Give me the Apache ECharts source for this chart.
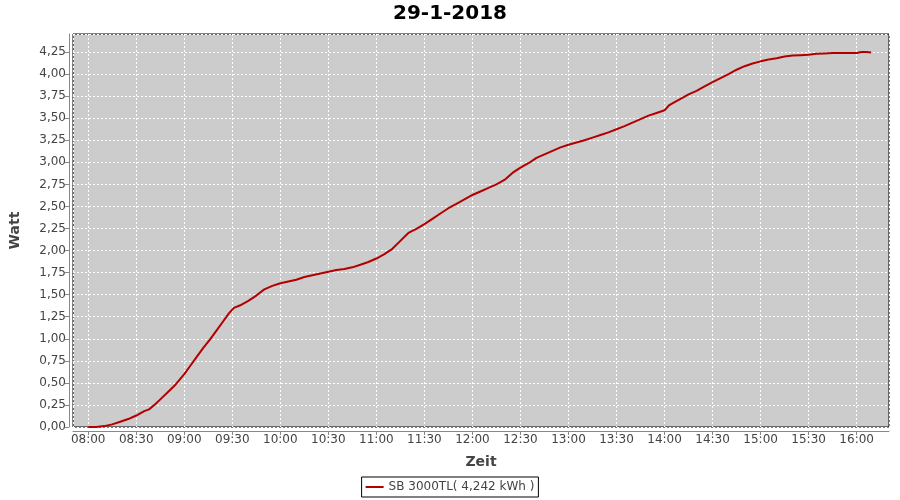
<!DOCTYPE html>
<html>
<head>
<meta charset="utf-8">
<script src="https://cdn.jsdelivr.net/npm/echarts@6/dist/echarts.min.js"></script>
<style>
html,body{margin:0;padding:0;background:#fff;}
#c{width:900px;height:500px;}
</style>
</head>
<body>
<div id="c"></div>
<script>
var chartTitle = '29-1-2018';
var seriesName = 'SB 3000TL( 4,242 kWh )';
var xAxisName = 'Zeit';
var yAxisName = 'Watt';
var times = ['08:00','08:05','08:10','08:15','08:20','08:25','08:30','08:35','08:38','08:42','08:46','08:50','08:54','09:00','09:04','09:08','09:12','09:16','09:20','09:24','09:28','09:31','09:35','09:40','09:45','09:50','09:55','10:00','10:05','10:10','10:15','10:20','10:25','10:30','10:35','10:40','10:45','10:50','10:55','11:00','11:05','11:10','11:15','11:20','11:25','11:30','11:35','11:40','11:45','11:50','11:55','12:00','12:05','12:10','12:15','12:20','12:25','12:30','12:35','12:40','12:45','12:50','12:55','13:00','13:05','13:10','13:15','13:20','13:25','13:30','13:35','13:40','13:45','13:50','13:55','14:00','14:03','14:06','14:10','14:15','14:20','14:25','14:30','14:35','14:40','14:45','14:50','14:55','15:00','15:05','15:10','15:15','15:20','15:25','15:30','15:35','15:40','15:45','15:50','15:55','16:00','16:03','16:06','16:09'];
var values = [0.00,0.00,0.01,0.03,0.06,0.09,0.13,0.18,0.20,0.26,0.33,0.40,0.47,0.60,0.70,0.80,0.90,0.99,1.09,1.19,1.29,1.35,1.38,1.43,1.49,1.56,1.60,1.63,1.65,1.67,1.70,1.72,1.74,1.76,1.78,1.79,1.81,1.84,1.87,1.91,1.96,2.02,2.11,2.20,2.245,2.30,2.36,2.42,2.48,2.53,2.58,2.63,2.67,2.71,2.75,2.80,2.88,2.94,2.99,3.05,3.09,3.13,3.17,3.20,3.225,3.25,3.28,3.31,3.34,3.375,3.41,3.45,3.49,3.53,3.56,3.59,3.65,3.68,3.72,3.77,3.81,3.86,3.91,3.955,4.00,4.05,4.09,4.12,4.145,4.165,4.18,4.20,4.21,4.215,4.22,4.23,4.235,4.24,4.24,4.24,4.24,4.25,4.25,4.245];

function toMin(s){var p=s.split(':');return (+p[0]-8)*60+(+p[1]);}
function fmtMin(v){var t=Math.round(v)+480;var h=Math.floor(t/60),m=t%60;return (h<10?'0':'')+h+':'+(m<10?'0':'')+m;}
var data = times.map(function(t,i){return [toMin(t), values[i]];});

var font = 'DejaVu Sans';
var chart = echarts.init(document.getElementById('c'), null, {renderer:'canvas'});
chart.setOption({
  animation:false,
  backgroundColor:'#ffffff',
  title:{text:chartTitle,left:'center',top:-1,textStyle:{fontFamily:font,fontWeight:'bold',fontSize:20,color:'#000'}},
  grid:{left:71,right:11,top:34,bottom:73,show:true,backgroundColor:'#cccccc',borderColor:'#000',borderWidth:1},
  legend:{bottom:3,left:'center',data:[seriesName],itemWidth:18,itemHeight:2,itemGap:5,padding:[4,4,4,4],borderColor:'#000',borderWidth:1,borderRadius:0,
    icon:'rect',textStyle:{fontFamily:font,fontSize:12,color:'#444'}},
  xAxis:{type:'value',min:-9.5,max:500.2,minInterval:30,maxInterval:30,offset:4,
    name:xAxisName,nameLocation:'middle',nameGap:24,nameTextStyle:{fontFamily:font,fontWeight:'bold',fontSize:14,color:'#444'},
    axisLine:{show:true,onZero:false,lineStyle:{color:'#888',width:1}},
    axisTick:{show:true,length:4,inside:false,lineStyle:{color:'#888'}},
    axisLabel:{fontFamily:font,fontSize:12,color:'#444',margin:3,showMinLabel:false,showMaxLabel:false,formatter:fmtMin},
    splitLine:{show:true,lineStyle:{color:'#ffffff',type:[2,2],width:1}}},
  yAxis:{type:'value',min:0,max:4.455,interval:0.25,offset:4,
    name:yAxisName,nameLocation:'middle',nameGap:47,nameRotate:90,nameTextStyle:{fontFamily:font,fontWeight:'bold',fontSize:14,color:'#444'},
    axisLine:{show:true,onZero:false,lineStyle:{color:'#888',width:1}},
    axisTick:{show:true,length:4,inside:false,lineStyle:{color:'#888'}},
    axisLabel:{fontFamily:font,fontSize:12,color:'#444',margin:3,showMaxLabel:false,formatter:function(v){return v.toFixed(2).replace('.',',');}},
    splitLine:{show:true,lineStyle:{color:'#ffffff',type:[2,2],width:1}}},
  series:[{name:seriesName,type:'line',data:data,showSymbol:false,symbol:'none',lineStyle:{color:'#b20000',width:2},itemStyle:{color:'#b20000'}}]
});
</script>
</body>
</html>
